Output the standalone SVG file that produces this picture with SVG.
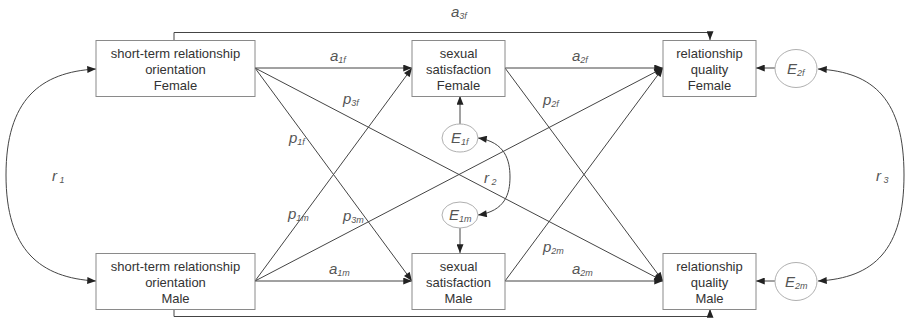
<svg xmlns="http://www.w3.org/2000/svg" width="907" height="324" viewBox="0 0 907 324">
<defs>
<marker id="ah" viewBox="0 0 10 8" refX="10" refY="4" markerWidth="10" markerHeight="7" markerUnits="userSpaceOnUse" orient="auto-start-reverse">
<path d="M0,0 L10,4 L0,8 Z" fill="#222"/>
</marker>
</defs>
<style>
.box{fill:#fff;stroke:#8a8a8a;stroke-width:1}
.ell{fill:#fff;stroke:#b0b0b0;stroke-width:1}
.nt{font-family:"Liberation Sans",Arial,sans-serif;font-size:13px;fill:#333;text-anchor:middle}
.c{fill:none;stroke:#444;stroke-width:1}
.a{marker-end:url(#ah)}
.b{marker-start:url(#ah);marker-end:url(#ah)}
.lb{font-family:"Liberation Sans",Arial,sans-serif;font-size:15px;font-style:italic;fill:#555}
.sb{font-size:9px}
</style>
<rect width="907" height="324" fill="#fff"/>
<g id="connectors">
<path class="c a" d="M174,40 V32.5 H710 V40"/>
<path class="c a" d="M174,309 V316.5 H710 V309"/>
<path class="c a" d="M255,68 H412"/>
<path class="c a" d="M255,68 L412,281"/>
<path class="c a" d="M255,68 L663,281"/>
<path class="c a" d="M255,281 H412"/>
<path class="c a" d="M255,281 L412,68"/>
<path class="c a" d="M255,281 L663,68"/>
<path class="c a" d="M505,68 H663"/>
<path class="c a" d="M505,68 L663,281"/>
<path class="c a" d="M505,281 H663"/>
<path class="c a" d="M505,281 L663,68"/>
<path class="c a" d="M460,124 V96"/>
<path class="c a" d="M460,228 V253"/>
<path class="c a" d="M775,68 H756"/>
<path class="c a" d="M775,281 H756"/>
<path class="c b" d="M478,138 C505,142 510,160 510,177 C510,194 505,211 478,215"/>
<path class="c b" d="M96,69 C40,72 6,100 6,175 C6,250 40,278 96,281"/>
<path class="c b" d="M818,69 C874,72 904,100 904,175 C904,250 874,278 818,281"/>
</g>
<g id="stro_f"><rect class="box" x="96" y="40.5" width="159" height="56"/><text class="nt" x="175.5" y="58">short-term relationship</text><text class="nt" x="175.5" y="74">orientation</text><text class="nt" x="175.5" y="90">Female</text></g>
<g id="stro_m"><rect class="box" x="96" y="253.5" width="159" height="56"/><text class="nt" x="175.5" y="271">short-term relationship</text><text class="nt" x="175.5" y="287">orientation</text><text class="nt" x="175.5" y="303">Male</text></g>
<g id="ss_f"><rect class="box" x="412" y="40.5" width="93" height="56"/><text class="nt" x="458.5" y="58">sexual</text><text class="nt" x="458.5" y="74">satisfaction</text><text class="nt" x="458.5" y="90">Female</text></g>
<g id="ss_m"><rect class="box" x="412" y="253.5" width="93" height="56"/><text class="nt" x="458.5" y="271">sexual</text><text class="nt" x="458.5" y="287">satisfaction</text><text class="nt" x="458.5" y="303">Male</text></g>
<g id="rq_f"><rect class="box" x="663" y="40.5" width="93" height="56"/><text class="nt" x="709.5" y="58">relationship</text><text class="nt" x="709.5" y="74">quality</text><text class="nt" x="709.5" y="90">Female</text></g>
<g id="rq_m"><rect class="box" x="663" y="253.5" width="93" height="56"/><text class="nt" x="709.5" y="271">relationship</text><text class="nt" x="709.5" y="287">quality</text><text class="nt" x="709.5" y="303">Male</text></g>
<g id="e1f"><ellipse class="ell" cx="460" cy="138" rx="18" ry="14"/><text class="lb" x="451" y="143">E<tspan class="sb" dy="2">1f</tspan></text></g>
<g id="e1m"><ellipse class="ell" cx="460" cy="215" rx="18" ry="13"/><text class="lb" x="449" y="220">E<tspan class="sb" dy="2">1m</tspan></text></g>
<g id="e2f"><ellipse class="ell" cx="796" cy="68.5" rx="21" ry="19"/><text class="lb" x="787" y="73.5">E<tspan class="sb" dy="2">2f</tspan></text></g>
<g id="e2m"><ellipse class="ell" cx="796" cy="281.5" rx="21" ry="19"/><text class="lb" x="785" y="286.5">E<tspan class="sb" dy="2">2m</tspan></text></g>
<g id="labels">
<text class="lb" x="451" y="17">a<tspan class="sb" dy="2">3f</tspan></text>
<text class="lb" x="330" y="61">a<tspan class="sb" dy="2">1f</tspan></text>
<text class="lb" x="572" y="61">a<tspan class="sb" dy="2">2f</tspan></text>
<text class="lb" x="343" y="104">p<tspan class="sb" dy="2">3f</tspan></text>
<text class="lb" x="289" y="143">p<tspan class="sb" dy="2">1f</tspan></text>
<text class="lb" x="543" y="105">p<tspan class="sb" dy="2">2f</tspan></text>
<text class="lb" x="288" y="219">p<tspan class="sb" dy="2">1m</tspan></text>
<text class="lb" x="343" y="221">p<tspan class="sb" dy="2">3m</tspan></text>
<text class="lb" x="543" y="252">p<tspan class="sb" dy="2">2m</tspan></text>
<text class="lb" x="329" y="274">a<tspan class="sb" dy="2">1m</tspan></text>
<text class="lb" x="572" y="274">a<tspan class="sb" dy="2">2m</tspan></text>
<text class="lb" x="52" y="181">r<tspan class="sb" dy="2"> 1</tspan></text>
<text class="lb" x="484" y="183">r<tspan class="sb" dy="2"> 2</tspan></text>
<text class="lb" x="876" y="181">r<tspan class="sb" dy="2"> 3</tspan></text>
</g>
</svg>
